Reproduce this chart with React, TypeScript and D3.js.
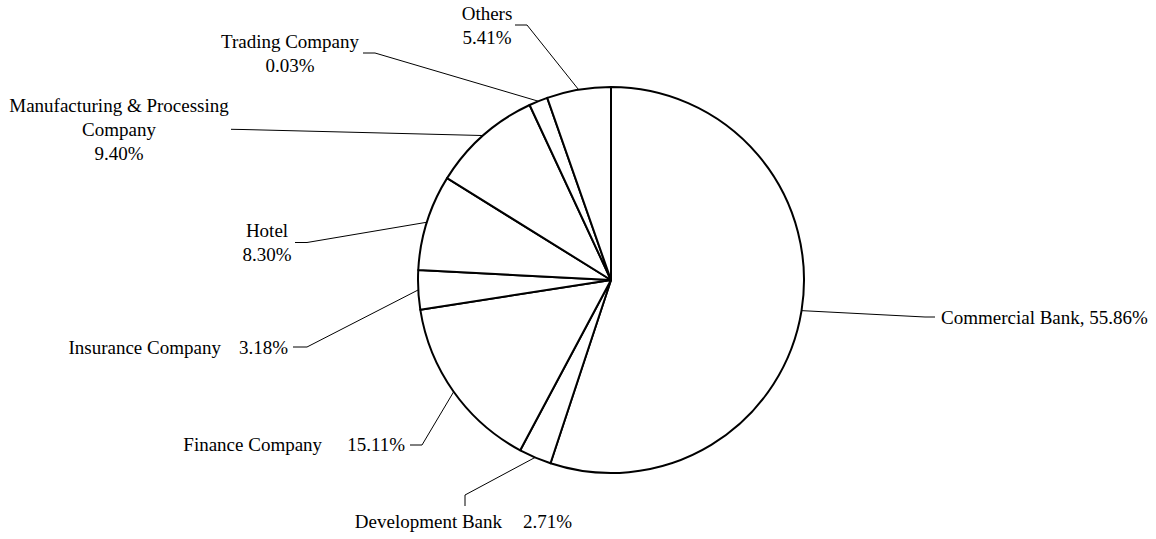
import React from "react";
import * as d3 from "d3";

// Slice sizes (percent of the circle)
const categories = [
  "Commercial Bank",
  "Development Bank",
  "Finance Company",
  "Insurance Company",
  "Hotel",
  "Manufacturing & Processing Company",
  "Trading Company",
  "Others",
];
const sliceValues = [55.08, 2.72, 14.75, 3.28, 8.03, 9.22, 1.57, 5.36];
// Printed label texts
const labelPercents = ["55.86%", "2.71%", "15.11%", "3.18%", "8.30%", "9.40%", "0.03%", "5.41%"];

// Label layout (text lines, anchor, positions of the label side of the leader)
type Layout = {
  lines: string[][]; // each line: [name part, value part?]
  anchor: "start" | "middle" | "end";
  x: number;
  baselines: number[];
  elbow: [number, number];
  end: [number, number];
  gap?: number;
};

const layouts: Layout[] = [
  { lines: [["Commercial Bank, " + labelPercents[0]]], anchor: "start", x: 941, baselines: [324], elbow: [925, 317], end: [935, 317] },
  { lines: [["Development Bank", labelPercents[1]]], anchor: "middle", x: 463.5, baselines: [528], elbow: [465, 495], end: [465, 506], gap: 21 },
  { lines: [["Finance Company", labelPercents[2]]], anchor: "end", x: 405, baselines: [451], elbow: [422, 445], end: [410, 445], gap: 25 },
  { lines: [["Insurance Company", labelPercents[3]]], anchor: "end", x: 288, baselines: [354], elbow: [307, 347], end: [293, 347], gap: 18 },
  { lines: [["Hotel"], [labelPercents[4]]], anchor: "middle", x: 267, baselines: [237, 261], elbow: [307, 242.5], end: [295, 242.5] },
  { lines: [["Manufacturing & Processing"], ["Company"], [labelPercents[5]]], anchor: "middle", x: 119, baselines: [112, 136, 160], elbow: [243, 129.5], end: [231, 129.3] },
  { lines: [["Trading Company"], [labelPercents[6]]], anchor: "middle", x: 290, baselines: [48, 72], elbow: [375, 53], end: [363, 53] },
  { lines: [["Others"], [labelPercents[7]]], anchor: "middle", x: 487, baselines: [20, 44], elbow: [527, 25], end: [515, 25] },
];

const W = 1156;
const H = 539;
const cx = 611;
const cy = 280;
const R = 193;

export default function App() {
  const data = categories.map((c, i) => ({ name: c, value: sliceValues[i] }));
  const pie = d3
    .pie<{ name: string; value: number }>()
    .sort(null)
    .value((d) => d.value)
    .startAngle(0)
    .endAngle(2 * Math.PI);
  const arcs = pie(data);
  const arcGen = d3
    .arc<d3.PieArcDatum<{ name: string; value: number }>>()
    .innerRadius(0)
    .outerRadius(R);
  const line = d3.line();

  return (
    <svg
      width={W}
      height={H}
      style={{ position: "absolute", left: 0, top: 0, background: "#fff" }}
      fontFamily="'Liberation Serif', 'Times New Roman', serif"
      fontSize={19}
    >
      <g transform={`translate(${cx},${cy})`}>
        {arcs.map((a, i) => (
          <path key={i} d={arcGen(a) || ""} fill="#fff" stroke="#000" strokeWidth={2} strokeLinejoin="round" />
        ))}
      </g>
      {arcs.map((a, i) => {
        const mid = (a.startAngle + a.endAngle) / 2;
        const px = cx + R * Math.sin(mid);
        const py = cy - R * Math.cos(mid);
        const L = layouts[i];
        return (
          <path
            key={"l" + i}
            d={line([[px, py], L.elbow, L.end]) || ""}
            fill="none"
            stroke="#000"
            strokeWidth={1}
          />
        );
      })}
      {layouts.map((L, i) => (
        <text key={"t" + i} textAnchor={L.anchor} fill="#000">
          {L.lines.map((ln, j) => (
            <tspan key={j} x={L.x} y={L.baselines[j]}>
              {ln[0]}
              {ln.length > 1 ? <tspan dx={L.gap}>{ln[1]}</tspan> : null}
            </tspan>
          ))}
        </text>
      ))}
    </svg>
  );
}
